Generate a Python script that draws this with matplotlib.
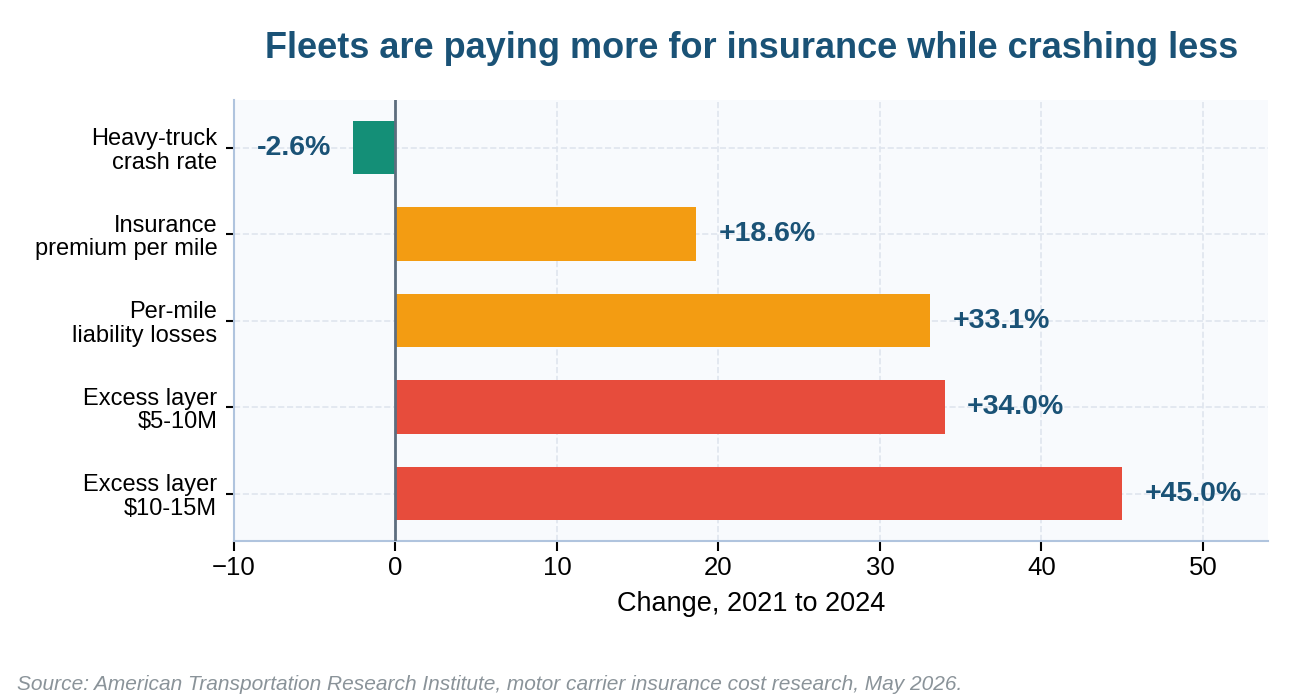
import numpy as np
import matplotlib.pyplot as plt

plt.rcParams['font.family'] = ['Liberation Sans', 'DejaVu Sans']

categories = ['Heavy-truck\ncrash rate', 'Insurance\npremium per mile',
              'Per-mile\nliability losses', 'Excess layer\n$5-10M', 'Excess layer\n$10-15M']
values = [-2.6, 18.6, 33.1, 34.0, 45.0]
colors = ['#148f77', '#f39c12', '#f39c12', '#e74c3c', '#e74c3c']
labels = ['-2.6%', '+18.6%', '+33.1%', '+34.0%', '+45.0%']

fig = plt.figure(figsize=(13, 7), dpi=100)
ax = fig.add_axes([0.18, 0.227, 0.795, 0.63])
ax.set_facecolor('#f8fafd')

y = np.arange(len(categories))
ax.barh(y, values, height=0.62, color=colors, zorder=3)
ax.axvline(0, color='#5d6d7e', lw=2, zorder=4)
for yi, v, lab in zip(y, values, labels):
    if v < 0:
        ax.text(v - 1.4, yi, lab, ha='right', va='center', fontsize=20.5,
                fontweight='bold', color='#1a5276')
    else:
        ax.text(v + 1.4, yi, lab, ha='left', va='center', fontsize=20.5,
                fontweight='bold', color='#1a5276')

ax.set_yticks(y)
ax.set_yticklabels(categories, fontsize=17, linespacing=1.1)
ax.invert_yaxis()
ax.set_ylim(4.55, -0.55)
ax.set_xlim(-10, 54)
ax.set_xticks([-10, 0, 10, 20, 30, 40, 50])
ax.set_xticklabels(['\u221210', '0', '10', '20', '30', '40', '50'])
ax.tick_params(axis='x', labelsize=18.5, length=7, width=1.5)
ax.tick_params(axis='y', length=6, width=1.5, pad=6)
ax.set_xlabel('Change, 2021 to 2024', fontsize=19.5, labelpad=8)
ax.grid(True, ls='--', color='#dfe5ee', lw=1.2, zorder=0)
for s in ['top', 'right']:
    ax.spines[s].set_visible(False)
for s in ['left', 'bottom']:
    ax.spines[s].set_color('#b0c4de')
    ax.spines[s].set_linewidth(1.5)

fig.text(0.578, 0.93, 'Fleets are paying more for insurance while crashing less',
         ha='center', va='center', fontsize=26, fontweight='bold', color='#1a5276')
fig.text(0.013, 0.015, 'Source: American Transportation Research Institute, motor carrier insurance cost research, May 2026.',
         fontsize=15, style='italic', color='#8a9399')

fig.savefig('out.png', dpi=100)
